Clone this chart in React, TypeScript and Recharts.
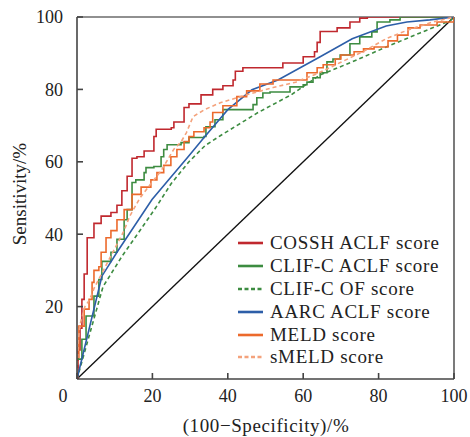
import { LineChart, Line, XAxis, YAxis, ReferenceLine } from "recharts";

// ROC points as [100 - specificity, sensitivity]
const cosshPoints: [number, number][] = [
  [0, 0], [0.3, 8], [0.8, 14], [1.3, 22], [1.9, 29], [2.7, 37], [2.7, 39], [4.5, 43],
  [6.4, 45], [9, 46], [10.6, 48], [11.9, 52], [13.3, 56], [14.6, 61], [15.9, 61.4],
  [17.8, 63], [20.4, 67], [21, 69], [25, 69.4], [25.7, 71], [28.4, 75], [29.7, 76],
  [32.9, 78.5], [36, 80], [38.7, 81], [41.4, 82.6], [42, 85], [44, 86], [53.8, 86],
  [54.6, 87.3], [60, 89], [63, 90.4], [63.7, 93], [64.5, 96], [69, 97], [72.4, 98.6],
  [75, 99.7], [77, 100], [100, 100],
];

const clifAclfPoints: [number, number][] = [
  [0, 0], [0, 5.5], [1.3, 11], [2.4, 17.4], [4.5, 22.9], [5.8, 27.5], [6.6, 32.5],
  [8, 32.5], [9, 35], [10.6, 38.6], [12.5, 44], [13.3, 46.8], [14.6, 54.3], [15.6, 55],
  [17.8, 57], [18.3, 58.4], [20.4, 58.7], [22.3, 61.4], [23, 63.4], [23.9, 64.7],
  [27.6, 65.3], [29.7, 66.7], [33.7, 67], [34.2, 69.7], [36.6, 71.6], [38.7, 74.4],
  [45, 74.4], [46.7, 75.8], [47.7, 77.7], [49.3, 79], [51.2, 79.3], [56.5, 80.7],
  [60, 81.3], [61, 82], [62.6, 83.2], [64.5, 84.6], [66.3, 87.6], [67.9, 88.4],
  [69.8, 89.5], [72.4, 92.6], [75, 94.5], [78.2, 95.9], [79.6, 98.6], [83, 99.2],
  [85.7, 100], [100, 100],
];

const clifOfPoints: [number, number][] = [
  [0, 0], [6.9, 25.5], [12, 34], [16.7, 41], [21, 47.5], [25, 54], [29.7, 60], [34, 64.5],
  [38, 67.2], [48, 73.6], [56.8, 78.5], [64.5, 84], [73, 87.6], [82, 91.7], [91, 95.6],
  [99, 99], [100, 100],
];

const aarcPoints: [number, number][] = [
  [0, 0], [6.6, 28.4], [10.6, 35], [19.9, 49.6], [29.7, 61.7], [33.7, 66.7], [40, 74.4],
  [46.4, 79.9], [53.3, 82.6], [64.5, 89], [73, 94], [82, 97.5], [87.5, 98.6],
  [93.6, 99.2], [100, 100],
];

const meldPoints: [number, number][] = [
  [0, 0], [0, 6], [0.5, 14.6], [1.9, 19.3], [3.2, 22], [4, 26.7], [4.5, 30], [5.8, 31],
  [6.4, 35], [7.7, 39], [9, 41], [10.6, 44], [12.5, 46.8], [14.6, 51], [17, 53],
  [19.6, 55], [21.2, 57], [23, 59], [24.9, 61.4], [26.5, 63.4], [28.4, 65.6], [29.7, 67],
  [31, 68.3], [33.7, 69.4], [35.3, 71], [36, 73.6], [38.7, 75.5], [42.4, 78], [45, 79.6],
  [48.5, 81.5], [52, 82.6], [60, 82.6], [61, 84.6], [63.7, 86], [65.3, 86.8], [68.5, 88.4],
  [70, 89.5], [73.5, 90.4], [76, 91.2], [78.8, 91.7], [82.5, 93.4], [85, 95], [87.8, 97],
  [91, 97.8], [95.5, 98.6], [100, 100],
];

const smeldPoints: [number, number][] = [
  [0, 0], [0.3, 10], [0.8, 15], [2.1, 20], [3.4, 22], [4.5, 25], [6, 28], [8, 32],
  [10, 36], [12.5, 41], [14, 45], [16.7, 50], [20, 54.5], [22.3, 57.5], [24, 60.5],
  [25.7, 63.5], [27.6, 65.5], [29, 68], [30.8, 72.5], [34, 74.5], [38, 76.3], [45, 78.5],
  [52, 80.5], [58, 82], [64, 84.5], [70, 87.5], [76, 90.5], [82, 94], [88, 96.5],
  [94, 98.5], [100, 100],
];

const referencePoints: [number, number][] = [[0, 0], [100, 100]];

const xTicks = [0, 20, 40, 60, 80, 100];
const yTicks = [20, 40, 60, 80, 100];

const toRows = (pts: [number, number][]) => pts.map(([x, y]) => ({ x, y }));

const series = [
  { name: "COSSH ACLF score", points: cosshPoints, color: "#c0282e", dash: "", curve: "stepAfter" },
  { name: "CLIF-C ACLF score", points: clifAclfPoints, color: "#3d8c41", dash: "", curve: "stepAfter" },
  { name: "CLIF-C OF score", points: clifOfPoints, color: "#3d8c41", dash: "4 3", curve: "linear" },
  { name: "AARC ACLF score", points: aarcPoints, color: "#2d5ea8", dash: "", curve: "linear" },
  { name: "MELD score", points: meldPoints, color: "#ec6a2c", dash: "", curve: "stepAfter" },
  { name: "sMELD score", points: smeldPoints, color: "#f4a27c", dash: "4 3", curve: "linear" },
];

const font = "'Liberation Serif', 'Times New Roman', serif";

function XTick({ x, y, payload }: any) {
  const shift = payload.value === 0 ? -14 : 0;
  return (
    <text x={x + shift} y={y} dy="0.71em" textAnchor="middle" fontFamily={font} fontSize={18} fill="#222">
      {payload.value}
    </text>
  );
}

export default function App() {
  return (
    <div style={{ position: "relative", width: 470, height: 437, background: "#fff" }}>
      <style>{"body{margin:0}"}</style>
      <LineChart width={470} height={437} margin={{ top: 17, right: 16, left: 0, bottom: 0 }}>
        <XAxis
          type="number"
          dataKey="x"
          domain={[0, 100]}
          ticks={xTicks}
          allowDataOverflow
          height={58}
          stroke="#444"
          strokeWidth={1.6}
          tickSize={-6}
          tickMargin={16}
          tick={<XTick />}
        />
        <YAxis
          type="number"
          dataKey="y"
          domain={[0, 100]}
          ticks={yTicks}
          allowDataOverflow
          width={77}
          stroke="#444"
          strokeWidth={1.6}
          tickSize={-6}
          tickMargin={20}
          tick={{ fontFamily: font, fontSize: 18, fill: "#222" }}
        />
        <ReferenceLine y={100} stroke="#222" strokeWidth={1.2} />
        <ReferenceLine x={100} stroke="#222" strokeWidth={1.2} />
        <Line
          data={toRows(referencePoints)}
          dataKey="y"
          type="linear"
          stroke="#111"
          strokeWidth={1.3}
          dot={false}
          isAnimationActive={false}
        />
        {series.map((s) => (
          <Line
            key={s.name}
            name={s.name}
            data={toRows(s.points)}
            dataKey="y"
            type={s.curve as any}
            stroke={s.color}
            strokeWidth={1.6}
            strokeDasharray={s.dash || undefined}
            dot={false}
            isAnimationActive={false}
          />
        ))}
        <text x={266} y={425} textAnchor="middle" dominantBaseline="central" fontFamily={font} fontSize={19} letterSpacing={0.6} fill="#222">
          (100−Specificity)/%
        </text>
        <text
          x={19}
          y={194}
          textAnchor="middle"
          dominantBaseline="central"
          transform="rotate(-90 19 194)"
          fontFamily={font}
          fontSize={19}
          fill="#222"
        >
          Sensitivity/%
        </text>
      </LineChart>

      {/* legend sits inside the plot, lower right */}
      <div style={{ position: "absolute", left: 238, top: 232, fontFamily: font, fontSize: 19, letterSpacing: 0.7, color: "#222" }}>
        {series.map((s) => (
          <div key={s.name} style={{ display: "flex", alignItems: "center", height: 22.8, whiteSpace: "nowrap" }}>
            <svg width={32} height={10}>
              <line x1={0} y1={5} x2={25} y2={5} stroke={s.color} strokeWidth={2.6} strokeDasharray={s.dash ? "4 2.5" : undefined} />
            </svg>
            <span>{s.name}</span>
          </div>
        ))}
      </div>
    </div>
  );
}
